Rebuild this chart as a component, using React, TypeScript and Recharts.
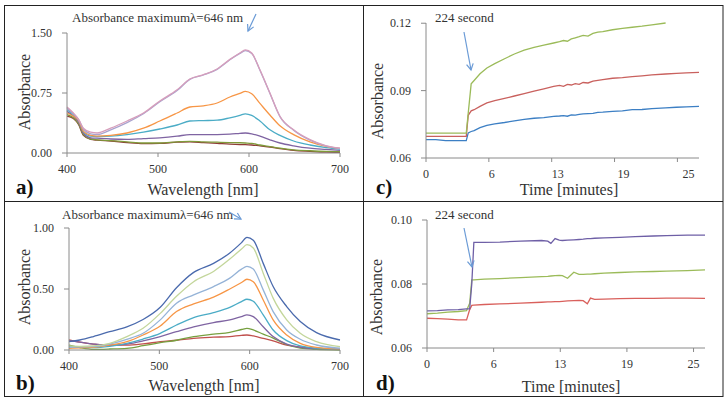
import React from 'react'
import { LineChart, Line, XAxis, YAxis } from 'recharts'

const FONT = "'Liberation Serif', 'DejaVu Serif', Times, serif"
const AXIS = '#8a8a8a'
const INK = '#333'

// panel a: spectra, wavelength in nm
const aWave = [400, 407, 413, 418, 426, 433, 448, 466, 484, 502, 521, 535, 550, 565, 579, 590, 596, 603, 612, 623, 634, 649, 667, 685, 700]
const aPink = [0.575, 0.5, 0.417, 0.31, 0.26, 0.25, 0.31, 0.4, 0.5, 0.65, 0.79, 0.925, 0.98, 1.05, 1.17, 1.25, 1.29, 1.25, 1.04, 0.75, 0.46, 0.29, 0.167, 0.09, 0.06]
const aLavender = [0.56, 0.49, 0.41, 0.3, 0.24, 0.23, 0.29, 0.38, 0.49, 0.64, 0.78, 0.92, 0.975, 1.045, 1.165, 1.245, 1.28, 1.245, 1.035, 0.745, 0.455, 0.285, 0.16, 0.085, 0.055]
const aOrange = [0.5, 0.46, 0.4, 0.27, 0.22, 0.21, 0.22, 0.25, 0.31, 0.4, 0.5, 0.575, 0.59, 0.625, 0.7, 0.745, 0.77, 0.74, 0.62, 0.475, 0.34, 0.23, 0.14, 0.083, 0.058]
const aTeal = [0.54, 0.48, 0.4, 0.27, 0.21, 0.205, 0.21, 0.23, 0.26, 0.3, 0.35, 0.4, 0.405, 0.41, 0.44, 0.47, 0.49, 0.47, 0.4, 0.29, 0.22, 0.15, 0.1, 0.068, 0.05]
const aPurple = [0.52, 0.46, 0.38, 0.25, 0.19, 0.185, 0.175, 0.17, 0.18, 0.19, 0.21, 0.23, 0.23, 0.23, 0.235, 0.245, 0.25, 0.24, 0.21, 0.165, 0.125, 0.09, 0.06, 0.045, 0.033]
const aOlive = [0.48, 0.44, 0.36, 0.23, 0.175, 0.165, 0.155, 0.14, 0.125, 0.125, 0.14, 0.146, 0.14, 0.135, 0.13, 0.128, 0.125, 0.12, 0.1, 0.08, 0.06, 0.04, 0.028, 0.02, 0.017]
const aBrown = [0.46, 0.43, 0.35, 0.22, 0.17, 0.16, 0.15, 0.13, 0.117, 0.12, 0.135, 0.14, 0.13, 0.12, 0.11, 0.105, 0.104, 0.1, 0.09, 0.075, 0.055, 0.033, 0.02, 0.01, 0.008]

// panel b
const bWave = [400, 412, 427, 445, 464, 482, 501, 519, 538, 560, 578, 591, 597, 604, 615, 626, 641, 656, 674, 700]
const bBlue = [0.068, 0.082, 0.11, 0.15, 0.19, 0.25, 0.35, 0.51, 0.636, 0.71, 0.795, 0.88, 0.923, 0.9, 0.71, 0.52, 0.356, 0.233, 0.142, 0.082]
const bLightGreen = [0.033, 0.03, 0.033, 0.055, 0.11, 0.178, 0.3, 0.44, 0.56, 0.644, 0.745, 0.827, 0.863, 0.836, 0.63, 0.425, 0.247, 0.137, 0.068, 0.027]
const bLightBlue = [0.022, 0.025, 0.027, 0.049, 0.088, 0.137, 0.247, 0.384, 0.452, 0.52, 0.589, 0.663, 0.685, 0.663, 0.493, 0.315, 0.164, 0.088, 0.041, 0.014]
const bOrange = [0.014, 0.018, 0.022, 0.04, 0.068, 0.123, 0.197, 0.315, 0.378, 0.433, 0.5, 0.553, 0.58, 0.56, 0.41, 0.247, 0.123, 0.055, 0.022, 0.008]
const bTeal = [0.027, 0.022, 0.019, 0.03, 0.055, 0.09, 0.137, 0.205, 0.266, 0.307, 0.35, 0.397, 0.416, 0.4, 0.288, 0.164, 0.077, 0.033, 0.015, 0.005]
const bPurple = [0.077, 0.065, 0.049, 0.038, 0.049, 0.075, 0.11, 0.15, 0.19, 0.225, 0.247, 0.274, 0.288, 0.274, 0.19, 0.11, 0.049, 0.022, 0.012, 0.014]
const bGreen = [0.04, 0.02, 0.005, 0.008, 0.014, 0.035, 0.06, 0.08, 0.11, 0.13, 0.145, 0.168, 0.178, 0.164, 0.13, 0.098, 0.045, 0.015, 0.005, 0]
const bRed = [0.082, 0.065, 0.049, 0.042, 0.04, 0.05, 0.068, 0.08, 0.096, 0.105, 0.11, 0.12, 0.123, 0.115, 0.095, 0.075, 0.04, 0.025, 0.012, 0.005]

// panel c: kinetics, time in minutes
const cTime = [0, 1, 2, 3, 4.1, 4.3, 4.6, 4.9, 5.5, 6.2, 7, 8, 9, 10, 11, 12, 13, 13.6, 14, 14.4, 14.8, 15.2, 15.6, 16, 16.5, 17, 17.5, 18, 19, 20, 21, 22, 23, 24.4, 25.5, 26.5, 27.8]
const cGreen = [0.0711, 0.0711, 0.0711, 0.0711, 0.0711, 0.08, 0.093, 0.0945, 0.0975, 0.1001, 0.102, 0.1042, 0.1063, 0.108, 0.1093, 0.1102, 0.1112, 0.1118, 0.1123, 0.112, 0.113, 0.1135, 0.114, 0.1146, 0.1143, 0.1155, 0.116, 0.1163, 0.1171, 0.1177, 0.1182, 0.1187, 0.1193, 0.1201, null, null, null]
const cRed = [0.0696, 0.0696, 0.0696, 0.0696, 0.0696, 0.079, 0.081, 0.0815, 0.083, 0.0845, 0.0855, 0.0865, 0.0876, 0.0887, 0.0898, 0.0908, 0.0919, 0.0923, 0.0919, 0.0928, 0.0925, 0.0931, 0.0928, 0.0936, 0.0934, 0.0942, 0.0946, 0.0949, 0.0955, 0.0958, 0.0962, 0.0966, 0.097, 0.0974, 0.0977, 0.0979, 0.0981]
const cBlue = [0.0682, 0.0682, 0.0677, 0.0677, 0.0677, 0.0712, 0.0718, 0.0722, 0.0735, 0.0745, 0.0752, 0.0758, 0.0765, 0.0772, 0.0777, 0.078, 0.0785, 0.0787, 0.0789, 0.0786, 0.0792, 0.0791, 0.0794, 0.0796, 0.0798, 0.0799, 0.0803, 0.0804, 0.0808, 0.081, 0.0815, 0.0816, 0.082, 0.0823, 0.0826, 0.0828, 0.083]

// panel d
const dTime = [0, 1, 2, 3, 3.8, 4.1, 4.3, 4.5, 5.5, 7, 9, 11, 11.6, 11.9, 12.3, 12.7, 13, 13.5, 14.1, 14.6, 15, 15.4, 15.7, 16.1, 17, 18.5, 20, 21.75, 23, 25, 26.7]
const dPurple = [0.0716, 0.0717, 0.0719, 0.072, 0.0722, 0.0722, 0.08, 0.093, 0.093, 0.0931, 0.0934, 0.0936, 0.0934, 0.0927, 0.0942, 0.0937, 0.0936, 0.0937, 0.0938, 0.0939, 0.094, 0.0942, 0.0942, 0.0943, 0.0944, 0.0946, 0.0948, 0.095, 0.0951, 0.0953, 0.0953]
const dGreen = [0.0707, 0.0709, 0.0712, 0.0714, 0.0717, 0.074, 0.0813, 0.0813, 0.0815, 0.0817, 0.082, 0.0823, 0.0824, 0.0825, 0.0826, 0.0827, 0.0826, 0.0818, 0.0837, 0.083, 0.083, 0.0831, 0.0831, 0.0832, 0.0834, 0.0836, 0.0838, 0.0839, 0.084, 0.0842, 0.0844]
const dRed = [0.0693, 0.0692, 0.069, 0.0688, 0.0688, 0.072, 0.0733, 0.0734, 0.0736, 0.0738, 0.074, 0.0743, 0.0744, 0.0744, 0.0745, 0.0745, 0.0746, 0.0747, 0.0748, 0.0749, 0.0748, 0.0738, 0.0756, 0.0752, 0.0753, 0.0754, 0.0755, 0.0755, 0.0756, 0.0756, 0.0755]

const waveTicks = [400, 500, 600, 700]
const timeTicks = [0, 6.4, 12.8, 19.2, 25.6]
const timeLabels = ['0', '6', '13', '19', '25']
const cLabelShift = [0, 3, 6, 9, 11]

type Series = { key: string; values: (number | null)[]; color: string }

function rows(xs: number[], series: Series[]) {
  return xs.map((x, i) => {
    const r: Record<string, number | null> = { x }
    series.forEach(s => { r[s.key] = s.values[i] })
    return r
  })
}

const aSeries: Series[] = [
  { key: 'brown', values: aBrown, color: '#8e3b36' },
  { key: 'olive', values: aOlive, color: '#7f9a3a' },
  { key: 'purple', values: aPurple, color: '#7f64a2' },
  { key: 'teal', values: aTeal, color: '#4bacc6' },
  { key: 'orange', values: aOrange, color: '#f79646' },
  { key: 'lavender', values: aLavender, color: '#aaa3cf' },
  { key: 'pink', values: aPink, color: '#d69ebb' },
]
const bSeries: Series[] = [
  { key: 'red', values: bRed, color: '#c0504d' },
  { key: 'green', values: bGreen, color: '#77a040' },
  { key: 'purple', values: bPurple, color: '#7f64a2' },
  { key: 'teal', values: bTeal, color: '#4bacc6' },
  { key: 'orange', values: bOrange, color: '#f79646' },
  { key: 'lightBlue', values: bLightBlue, color: '#95b3d7' },
  { key: 'lightGreen', values: bLightGreen, color: '#c3d69b' },
  { key: 'blue', values: bBlue, color: '#4a6aad' },
]
const cSeries: Series[] = [
  { key: 'blue', values: cBlue, color: '#3c7fc4' },
  { key: 'red', values: cRed, color: '#c9615e' },
  { key: 'green', values: cGreen, color: '#9bbb59' },
]
const dSeries: Series[] = [
  { key: 'red', values: dRed, color: '#d9605c' },
  { key: 'green', values: dGreen, color: '#9bbb59' },
  { key: 'purple', values: dPurple, color: '#6e5fa6' },
]

const tickStyle = { fill: INK, fontSize: 12, fontFamily: FONT }

function Panel(props: {
  left: number; top: number; width: number; height: number
  margin: { top: number; right: number; bottom: number; left: number }
  yWidth: number; xs: number[]; series: Series[]
  xDomain: [number, number]; xTicks: number[]; xTick?: any; xFormat?: (v: number, i: number) => string
  yDomain: [number, number]; yTicks: number[]; curve: 'monotone' | 'linear'
}) {
  const data = rows(props.xs, props.series)
  return (
    <div style={{ position: 'absolute', left: props.left, top: props.top }}>
      <LineChart width={props.width} height={props.height} data={data} margin={props.margin} style={{ fontFamily: FONT }}>
        <XAxis dataKey="x" type="number" domain={props.xDomain} ticks={props.xTicks} interval={0} height={30}
          stroke={AXIS} tickSize={4} tickMargin={7} tick={props.xTick ?? tickStyle} tickFormatter={props.xFormat} />
        <YAxis type="number" domain={props.yDomain} ticks={props.yTicks} width={props.yWidth} interval={0}
          stroke={AXIS} tickSize={5} tickMargin={10} tick={tickStyle} tickFormatter={(v: number) => v.toFixed(2)} />
        {props.series.map(s => (
          <Line key={s.key} dataKey={s.key} type={props.curve} stroke={s.color} strokeWidth={1.3}
            dot={false} isAnimationActive={false} connectNulls={false} />
        ))}
      </LineChart>
    </div>
  )
}

function CTick(props: any) {
  const { x, y, index } = props
  return (
    <text x={x + cLabelShift[index]} y={y} dy="0.71em" textAnchor="middle" fill={INK} fontSize={12} style={{ fontFamily: FONT }}>
      {timeLabels[index]}
    </text>
  )
}

function Arrow({ x1, y1, x2, y2 }: { x1: number; y1: number; x2: number; y2: number }) {
  const a = Math.atan2(y2 - y1, x2 - x1)
  const h = 7
  const p1 = [x2 - h * Math.cos(a - 0.5), y2 - h * Math.sin(a - 0.5)]
  const p2 = [x2 - h * Math.cos(a + 0.5), y2 - h * Math.sin(a + 0.5)]
  return (
    <g stroke="#6b9bd6" strokeWidth={1.2} fill="none">
      <line x1={x1} y1={y1} x2={x2} y2={y2} />
      <polyline points={`${p1[0]},${p1[1]} ${x2},${y2} ${p2[0]},${p2[1]}`} />
    </g>
  )
}

function YLabel({ x, y }: { x: number; y: number }) {
  return (
    <text x={x} y={y} transform={`rotate(-90 ${x} ${y})`} textAnchor="middle" dominantBaseline="central"
      fontSize={16} fill={INK}>Absorbance</text>
  )
}

export default function App() {
  return (
    <div style={{ position: 'absolute', left: 0, top: 0, width: 727, height: 402, background: '#fff', fontFamily: FONT }}>
      <Panel left={0} top={0} width={363} height={201} margin={{ top: 33, right: 23, bottom: 18, left: 0 }}
        yWidth={67} xs={aWave} series={aSeries} xDomain={[400, 700]} xTicks={waveTicks}
        yDomain={[0, 1.5]} yTicks={[0, 0.75, 1.5]} curve="monotone" />
      <Panel left={0} top={201} width={363} height={196} margin={{ top: 27, right: 23, bottom: 17, left: 0 }}
        yWidth={69} xs={bWave} series={bSeries} xDomain={[400, 700]} xTicks={waveTicks}
        yDomain={[0, 1]} yTicks={[0, 0.5, 1]} curve="monotone" />
      <Panel left={363} top={0} width={360} height={201} margin={{ top: 23, right: 24, bottom: 13, left: 0 }}
        yWidth={63} xs={cTime} series={cSeries} xDomain={[0, 27.8]} xTicks={timeTicks} xTick={CTick}
        yDomain={[0.06, 0.12]} yTicks={[0.06, 0.09, 0.12]} curve="linear" />
      <Panel left={363} top={201} width={360} height={196} margin={{ top: 19, right: 18, bottom: 19, left: 0 }}
        yWidth={64} xs={dTime} series={dSeries} xDomain={[0, 26.7]} xTicks={timeTicks}
        xFormat={(_v: number, i: number) => timeLabels[i]}
        yDomain={[0.06, 0.1]} yTicks={[0.06, 0.08, 0.1]} curve="linear" />

      <svg width={727} height={402} style={{ position: 'absolute', left: 0, top: 0, pointerEvents: 'none', fontFamily: FONT }}>
        <rect x={4.5} y={5.5} width={718.5} height={391} fill="none" stroke="#222" strokeWidth={1} />
        <line x1={363.5} y1={5} x2={363.5} y2={397} stroke="#222" />
        <line x1={4} y1={201.5} x2={723} y2={201.5} stroke="#222" />

        <text x={72} y={22} fontSize={13} fill={INK}>Absorbance maximumλ=646 nm</text>
        <Arrow x1={256} y1={14} x2={248} y2={31} />
        <text x={62} y={219} fontSize={13} fill={INK}>Absorbance maximumλ=646 nm</text>
        <Arrow x1={229} y1={212} x2={241} y2={219} />
        <text x={435} y={22} fontSize={13} fill={INK}>224 second</text>
        <Arrow x1={464} y1={32} x2={471} y2={70} />
        <text x={435} y={219} fontSize={13} fill={INK}>224 second</text>
        <Arrow x1={464} y1={228} x2={472} y2={267} />

        <YLabel x={24} y={92} />
        <YLabel x={24} y={287} />
        <YLabel x={377} y={101} />
        <YLabel x={376} y={297} />

        <text x={203} y={195} textAnchor="middle" fontSize={16} fill={INK}>Wavelength  [nm]</text>
        <text x={204} y={391} textAnchor="middle" fontSize={16} fill={INK}>Wavelength  [nm]</text>
        <text x={569} y={195} textAnchor="middle" fontSize={16} fill={INK}>Time  [minutes]</text>
        <text x={571} y={392} textAnchor="middle" fontSize={16} fill={INK}>Time  [minutes]</text>

        <text x={16} y={194} fontSize={21} fontWeight="bold" fill="#111">a)</text>
        <text x={16} y={390} fontSize={21} fontWeight="bold" fill="#111">b)</text>
        <text x={376} y={194} fontSize={21} fontWeight="bold" fill="#111">c)</text>
        <text x={376} y={390} fontSize={21} fontWeight="bold" fill="#111">d)</text>
      </svg>
    </div>
  )
}
